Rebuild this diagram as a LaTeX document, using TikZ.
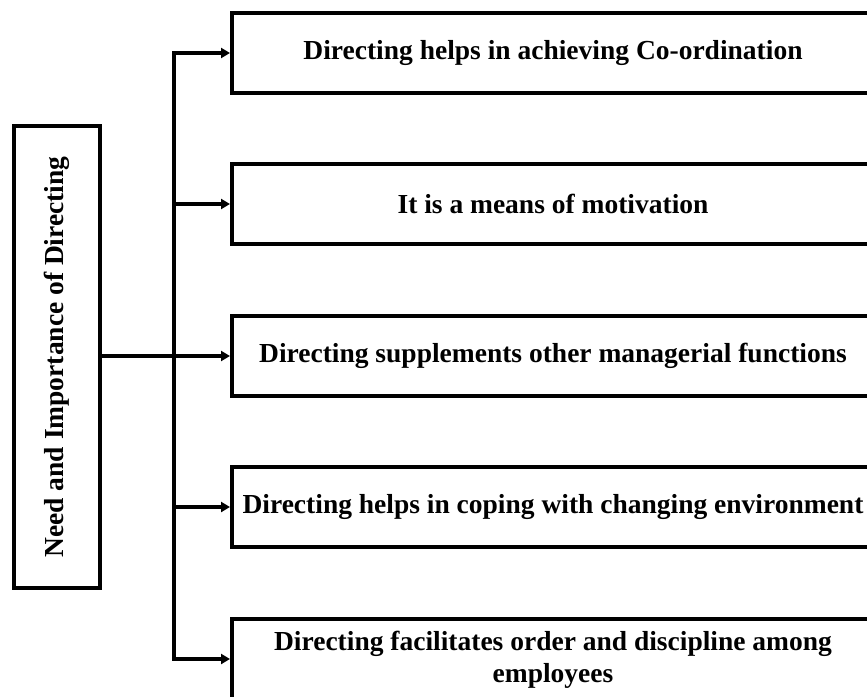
\documentclass[tikz,border=0pt]{standalone}
\usepackage{fontspec}
\setmainfont{Liberation Serif}
\usetikzlibrary{arrows.meta}
\begin{document}
\begin{tikzpicture}[x=1pt,y=-1pt,
  every node/.style={font=\bfseries\fontsize{27.5}{32}\selectfont},
  pointbox/.style={draw, line width=4pt, minimum width=642pt, minimum height=80pt,
    inner sep=0pt, align=center},
  headbox/.style={draw, line width=4pt, minimum width=86pt, minimum height=462pt,
    inner sep=0pt},
  link/.style={line width=4pt, line join=miter, -{Triangle[length=9pt,width=10pt]}},
  linkboth/.style={line width=4pt, line join=miter,
    {Triangle[length=9pt,width=10pt]}-{Triangle[length=9pt,width=10pt]}}]
  \useasboundingbox (0,0) rectangle (867,696);
  \clip (0,0) rectangle (867,696);

  % central heading, set vertically
  \node[headbox] (head) at (56.5,357) {};
  \node[rotate=90] (headtext) at (head.center) {Need and Importance of Directing};

  % the five points
  \node[pointbox] (p1) at (553,53)  {Directing helps in achieving Co-ordination};
  \node[pointbox] (p2) at (553,204) {It is a means of motivation};
  \node[pointbox] (p3) at (553,356) {Directing supplements other managerial functions};
  \node[pointbox] (p4) at (553,507) {Directing helps in coping with changing environment};
  \node[pointbox] (p5) at (553,659) {};
  \node[align=center, anchor=north] (p5text) at (553,628)
    {Directing facilitates order and discipline among\\employees};

  % vertical trunk position
  \coordinate (tx) at (174,0);

  % trunk with first and last branches
  \draw[linkboth] (p1.west) -- (p1.west -| tx) -- (p5.west -| tx) -- (p5.west);
  % inner branches
  \draw[link] (p2.west -| tx) -- (p2.west);
  \draw[link] (p4.west -| tx) -- (p4.west);
  % direct line from the heading
  \draw[link] (head.east |- p3.west) -- (p3.west);
\end{tikzpicture}
\end{document}
